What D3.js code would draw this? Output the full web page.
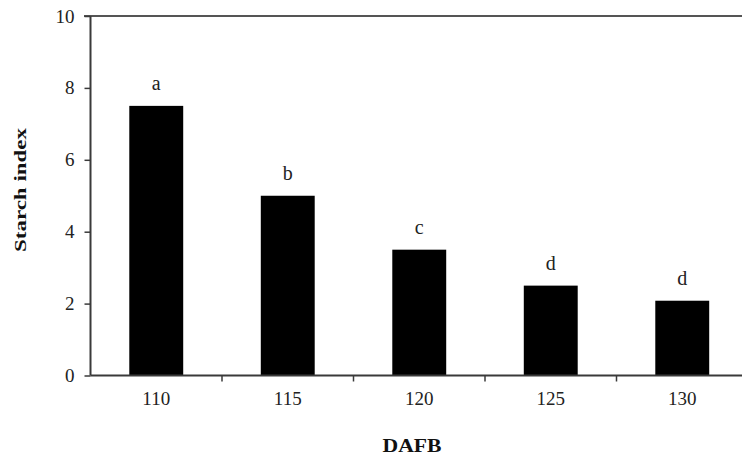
<!DOCTYPE html>
<html><head><meta charset="utf-8">
<script src="https://cdn.jsdelivr.net/npm/d3@7/dist/d3.min.js"></script>
<style>body{margin:0;background:#fff}svg{display:block}</style>
</head><body>
<svg id="c" width="742" height="456"></svg>
<script>
const categories = ["110","115","120","125","130"];
const values = [7.5, 5.0, 3.5, 2.5, 2.08];
const letters = ["a","b","c","d","d"];
const yTicks = [0,2,4,6,8,10];

const svg = d3.select("#c");
const L = 90.5, R = 748, T = 16, B = 375.5;
const font = "'Liberation Serif','Times New Roman',serif";
const axisColor = "#3a3a3a";

const x = d3.scaleBand().domain(categories).range([L, R]).paddingInner(0.59).paddingOuter(0.295);
const y = d3.scaleLinear().domain([0,10]).range([B, T]);

// bars
svg.selectAll("rect.bar").data(values).enter().append("rect")
  .attr("x",(d,i)=>x(categories[i])).attr("width",x.bandwidth())
  .attr("y",d=>y(d)).attr("height",d=>y(0)-y(d)).attr("fill","#000");

// letters
svg.selectAll("text.let").data(values).enter().append("text")
  .attr("x",(d,i)=>x(categories[i])+x.bandwidth()/2).attr("y",d=>y(d)-16)
  .attr("text-anchor","middle").attr("font-family",font).attr("font-size",20)
  .attr("fill","#222").text((d,i)=>letters[i]);

// top border
svg.append("line").attr("x1",84).attr("x2",742).attr("y1",T).attr("y2",T)
  .attr("stroke","#555").attr("stroke-width",2);

// y axis
const yAxis = d3.axisLeft(y).tickValues(yTicks).tickSize(6).tickPadding(10).tickFormat(d3.format("d"));
const gy = svg.append("g").attr("transform",`translate(${L},0)`).call(yAxis);
gy.select(".domain").attr("stroke",axisColor).attr("stroke-width",2).attr("d",`M0,${T}V${B}`);
gy.selectAll(".tick line").attr("stroke",axisColor).attr("stroke-width",1.5);
gy.selectAll(".tick text").attr("font-family",font).attr("font-size",19).attr("fill","#222");

// x axis
const xAxis = d3.axisBottom(x).tickSize(0).tickPadding(16);
const gx = svg.append("g").attr("transform",`translate(0,${B})`).call(xAxis);
gx.select(".domain").attr("stroke",axisColor).attr("stroke-width",2).attr("d",`M${L},0H${R}`);
gx.selectAll(".tick text").attr("font-family",font).attr("font-size",19).attr("fill","#222");
// tick marks between bands
const bounds = categories.map(c=>x(c)-x.step()*x.paddingInner()/2).slice(1);
gx.selectAll("line.sep").data(bounds).enter().append("line")
  .attr("x1",d=>d).attr("x2",d=>d).attr("y1",0).attr("y2",6)
  .attr("stroke",axisColor).attr("stroke-width",1.5);

// axis titles
svg.append("text").attr("x",412).attr("y",452).attr("text-anchor","middle")
  .attr("font-family",font).attr("font-weight","bold").attr("font-size",18)
  .attr("textLength",59).attr("lengthAdjust","spacingAndGlyphs")
  .attr("fill","#111").text("DAFB");
svg.append("text").attr("transform","translate(26,190) rotate(-90)").attr("text-anchor","middle")
  .attr("font-family",font).attr("font-weight","bold").attr("font-size",17)
  .attr("textLength",124).attr("lengthAdjust","spacingAndGlyphs")
  .attr("fill","#111").text("Starch index");
</script>
</body></html>
